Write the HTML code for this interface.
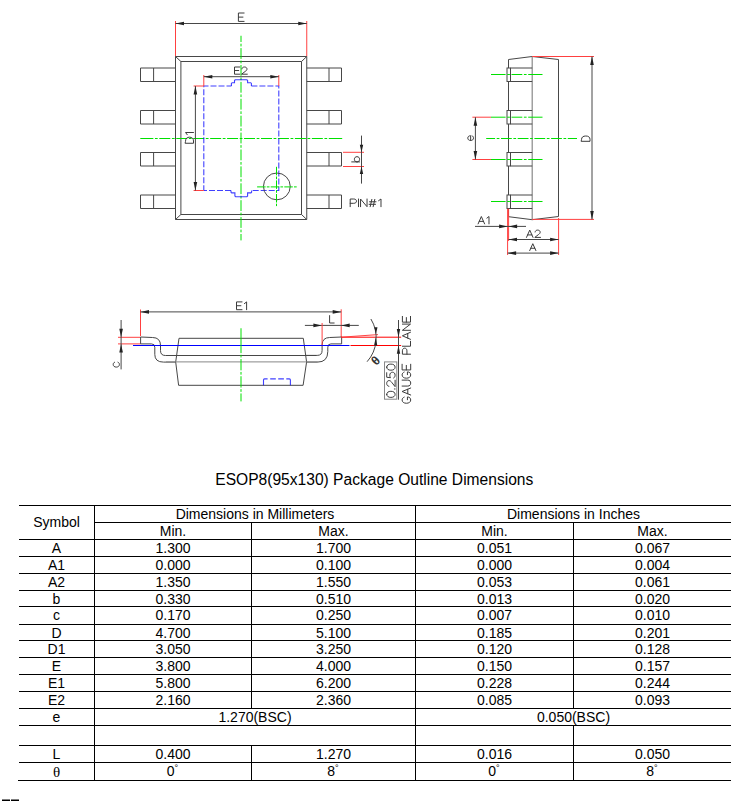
<!DOCTYPE html>
<html><head><meta charset="utf-8">
<style>
html,body{margin:0;padding:0;background:#fff;}
body{width:756px;height:801px;overflow:hidden;position:relative;}
svg{position:absolute;left:0;top:0;}
</style></head>
<body>
<svg width="756" height="801" viewBox="0 0 756 801">
<line x1="175.5" y1="21" x2="175.5" y2="56.5" stroke="#ff4040" stroke-width="1" />
<line x1="306.75" y1="21" x2="306.75" y2="56.5" stroke="#ff4040" stroke-width="1" />
<line x1="175.5" y1="23.5" x2="306.75" y2="23.5" stroke="#474747" stroke-width="1" />
<polygon points="175.50,23.50 184.00,21.70 184.00,25.30" fill="#222" stroke="none"/>
<polygon points="306.75,23.50 298.25,21.70 298.25,25.30" fill="#222" stroke="none"/>
<polygon points="175.5,56.5 306.75,56.5 306.75,219.5 175.5,219.5" stroke="#474747" stroke-width="1" fill="none"/>
<polygon points="180.9,61.5 301.5,61.5 301.5,214.5 180.9,214.5" stroke="#474747" stroke-width="1" fill="none"/>
<line x1="175.5" y1="56.5" x2="180.9" y2="61.5" stroke="#474747" stroke-width="1" />
<line x1="306.75" y1="56.5" x2="301.5" y2="61.5" stroke="#474747" stroke-width="1" />
<line x1="175.5" y1="219.5" x2="180.9" y2="214.5" stroke="#474747" stroke-width="1" />
<line x1="306.75" y1="219.5" x2="301.5" y2="214.5" stroke="#474747" stroke-width="1" />
<polyline points="175.5,68 140.5,68 140.5,81.5 175.5,81.5" stroke="#474747" stroke-width="1" fill="none"/>
<line x1="153.6" y1="68" x2="153.6" y2="81.5" stroke="#474747" stroke-width="1" />
<polyline points="306.75,68 341.5,68 341.5,81.5 306.75,81.5" stroke="#474747" stroke-width="1" fill="none"/>
<line x1="329" y1="68" x2="329" y2="81.5" stroke="#474747" stroke-width="1" />
<polyline points="175.5,110.5 140.5,110.5 140.5,124 175.5,124" stroke="#474747" stroke-width="1" fill="none"/>
<line x1="153.6" y1="110.5" x2="153.6" y2="124" stroke="#474747" stroke-width="1" />
<polyline points="306.75,110.5 341.5,110.5 341.5,124 306.75,124" stroke="#474747" stroke-width="1" fill="none"/>
<line x1="329" y1="110.5" x2="329" y2="124" stroke="#474747" stroke-width="1" />
<polyline points="175.5,152.5 140.5,152.5 140.5,166 175.5,166" stroke="#474747" stroke-width="1" fill="none"/>
<line x1="153.6" y1="152.5" x2="153.6" y2="166" stroke="#474747" stroke-width="1" />
<polyline points="306.75,152.5 341.5,152.5 341.5,166 306.75,166" stroke="#474747" stroke-width="1" fill="none"/>
<line x1="329" y1="152.5" x2="329" y2="166" stroke="#474747" stroke-width="1" />
<polyline points="175.5,195 140.5,195 140.5,208.5 175.5,208.5" stroke="#474747" stroke-width="1" fill="none"/>
<line x1="153.6" y1="195" x2="153.6" y2="208.5" stroke="#474747" stroke-width="1" />
<polyline points="306.75,195 341.5,195 341.5,208.5 306.75,208.5" stroke="#474747" stroke-width="1" fill="none"/>
<line x1="329" y1="195" x2="329" y2="208.5" stroke="#474747" stroke-width="1" />
<path d="M241 35.75V42.00M241 43.70V46.40M241 48.10V58.90M241 60.60V63.30M241 65.00V75.80M241 77.50V80.20M241 81.90V92.70M241 94.40V97.10M241 98.80V109.60M241 111.30V114.00M241 115.70V126.50M241 128.20V130.90M241 132.60V143.40M241 145.10V147.80M241 149.50V160.30M241 162.00V164.70M241 166.40V177.20M241 178.90V181.60M241 183.30V194.10M241 195.80V198.50M241 200.20V211.00M241 212.70V215.40M241 217.10V227.90M241 229.60V232.30M241 234.00V240.40" stroke="#00e000" stroke-width="1" fill="none"/>
<path d="M140.30 138.5H153.35M154.95 138.5H157.70M159.30 138.5H170.30M171.90 138.5H174.65M176.25 138.5H187.25M188.85 138.5H191.60M193.20 138.5H204.20M205.80 138.5H208.55M210.15 138.5H221.15M222.75 138.5H225.50M227.10 138.5H238.10M239.70 138.5H242.45M244.05 138.5H255.05M256.65 138.5H259.40M261.00 138.5H272.00M273.60 138.5H276.35M277.95 138.5H288.95M290.55 138.5H293.30M294.90 138.5H305.90M307.50 138.5H310.25M311.85 138.5H322.85M324.45 138.5H327.20M328.80 138.5H342.20" stroke="#00e000" stroke-width="1" fill="none"/>
<path d="M203.8 190.5V86H231.4" stroke="#0000ff" stroke-width="1.1" stroke-opacity="0.75" fill="none" stroke-dasharray="6 2" stroke-dashoffset="-103.2"/>
<path d="M251.4 86H278.8V190.5H251.6" stroke="#0000ff" stroke-width="1.1" stroke-opacity="0.75" fill="none" stroke-dasharray="6 2"/>
<path d="M231 190.5H203.8" stroke="#0000ff" stroke-width="1.1" stroke-opacity="0.75" fill="none" stroke-dasharray="6 2"/>
<path d="M231.4 86V83.4L232.1 82.7H234.5V80.5L235.2 79.75H246.9L247.6 80.5V82.7H250.7L251.4 83.4V86" stroke="#0000ff" stroke-width="1.1" stroke-opacity="0.75" fill="none"/>
<path d="M251.6 190.5V192.2L250.9 192.9H247.6V196L246.9 196.7H235.6L234.9 196V192.9H231.7L231 192.2V190.5" stroke="#0000ff" stroke-width="1.1" stroke-opacity="0.75" fill="none"/>
<line x1="203.8" y1="75" x2="203.8" y2="86" stroke="#ff4040" stroke-width="1" />
<line x1="278.8" y1="75" x2="278.8" y2="86" stroke="#ff4040" stroke-width="1" />
<line x1="203.8" y1="76.7" x2="278.8" y2="76.7" stroke="#474747" stroke-width="1" />
<polygon points="203.80,76.70 212.30,74.90 212.30,78.50" fill="#222" stroke="none"/>
<polygon points="278.80,76.70 270.30,74.90 270.30,78.50" fill="#222" stroke="none"/>
<line x1="193.6" y1="86" x2="203.8" y2="86" stroke="#ff4040" stroke-width="1" />
<line x1="193.6" y1="190.5" x2="203.8" y2="190.5" stroke="#ff4040" stroke-width="1" />
<line x1="195.4" y1="86" x2="195.4" y2="190.5" stroke="#474747" stroke-width="1" />
<polygon points="195.40,86.00 193.60,94.50 197.20,94.50" fill="#222" stroke="none"/>
<polygon points="195.40,190.50 193.60,182.00 197.20,182.00" fill="#222" stroke="none"/>
<circle cx="276.85" cy="186.4" r="13.4" stroke="#474747" stroke-width="1" fill="none"/>
<line x1="257.1" y1="186.9" x2="297" y2="186.9" stroke="#00e000" stroke-width="1" stroke-dasharray="8.5 1.2 2.7 1.2"/>
<line x1="276.5" y1="166.8" x2="276.5" y2="206.1" stroke="#00e000" stroke-width="1" stroke-dasharray="8.5 1.2 2.7 1.2"/>
<line x1="343" y1="152.3" x2="364" y2="152.3" stroke="#ff4040" stroke-width="1" />
<line x1="343" y1="166.5" x2="364" y2="166.5" stroke="#ff4040" stroke-width="1" />
<line x1="361.5" y1="135.6" x2="361.5" y2="183.6" stroke="#474747" stroke-width="1" />
<polygon points="361.50,152.30 359.80,144.80 363.20,144.80" fill="#222" stroke="none"/>
<polygon points="361.50,166.50 359.80,174.00 363.20,174.00" fill="#222" stroke="none"/>
<polygon points="508.5,59.5 532.2,56.5 558.5,59.5 558.5,216.5 532.2,219.7 508.5,216.7" stroke="#474747" stroke-width="1" fill="none"/>
<line x1="532.2" y1="56.5" x2="532.2" y2="219.7" stroke="#888" stroke-width="1.2" />
<rect x="507" y="68" width="3.5" height="13.5" stroke="#474747" stroke-width="1" fill="white"/>
<line x1="510.5" y1="68" x2="532.2" y2="68" stroke="#474747" stroke-width="1" />
<line x1="510.5" y1="81.5" x2="532.2" y2="81.5" stroke="#474747" stroke-width="1" />
<rect x="507" y="110.5" width="3.5" height="13.5" stroke="#474747" stroke-width="1" fill="white"/>
<line x1="510.5" y1="110.5" x2="532.2" y2="110.5" stroke="#474747" stroke-width="1" />
<line x1="510.5" y1="124" x2="532.2" y2="124" stroke="#474747" stroke-width="1" />
<rect x="507" y="152.5" width="3.5" height="13.5" stroke="#474747" stroke-width="1" fill="white"/>
<line x1="510.5" y1="152.5" x2="532.2" y2="152.5" stroke="#474747" stroke-width="1" />
<line x1="510.5" y1="166" x2="532.2" y2="166" stroke="#474747" stroke-width="1" />
<rect x="507" y="195" width="3.5" height="13.5" stroke="#474747" stroke-width="1" fill="white"/>
<line x1="510.5" y1="195" x2="532.2" y2="195" stroke="#474747" stroke-width="1" />
<line x1="510.5" y1="208.5" x2="532.2" y2="208.5" stroke="#474747" stroke-width="1" />
<path d="M491.00 74.5H505.60M507.20 74.5H509.90M511.50 74.5H522.30M523.90 74.5H526.60M528.20 74.5H542.50" stroke="#00e000" stroke-width="1" fill="none"/>
<path d="M491.00 117.2H505.60M507.20 117.2H509.90M511.50 117.2H522.30M523.90 117.2H526.60M528.20 117.2H542.50" stroke="#00e000" stroke-width="1" fill="none"/>
<path d="M491.00 159.5H505.60M507.20 159.5H509.90M511.50 159.5H522.30M523.90 159.5H526.60M528.20 159.5H542.50" stroke="#00e000" stroke-width="1" fill="none"/>
<path d="M491.00 201.5H505.60M507.20 201.5H509.90M511.50 201.5H522.30M523.90 201.5H526.60M528.20 201.5H542.50" stroke="#00e000" stroke-width="1" fill="none"/>
<path d="M486.20 138.5H495.10M496.70 138.5H499.40M501.00 138.5H511.80M513.40 138.5H516.10M517.70 138.5H528.50M530.10 138.5H532.80M534.40 138.5H545.20M546.80 138.5H549.50M551.10 138.5H561.90M563.50 138.5H566.20M567.80 138.5H577.00" stroke="#00e000" stroke-width="1" fill="none"/>
<line x1="472.4" y1="117.2" x2="491" y2="117.2" stroke="#ff4040" stroke-width="1" />
<line x1="472.4" y1="159.5" x2="491" y2="159.5" stroke="#ff4040" stroke-width="1" />
<line x1="475.4" y1="117.2" x2="475.4" y2="159.5" stroke="#474747" stroke-width="1" />
<polygon points="475.40,117.20 473.60,125.70 477.20,125.70" fill="#222" stroke="none"/>
<polygon points="475.40,159.50 473.60,151.00 477.20,151.00" fill="#222" stroke="none"/>
<line x1="532.2" y1="56.5" x2="594" y2="56.5" stroke="#ff4040" stroke-width="1" />
<line x1="532.2" y1="219.4" x2="594" y2="219.4" stroke="#ff4040" stroke-width="1" />
<line x1="592" y1="56.5" x2="592" y2="219.4" stroke="#474747" stroke-width="1" />
<polygon points="592.00,56.50 590.20,65.00 593.80,65.00" fill="#222" stroke="none"/>
<polygon points="592.00,219.40 590.20,210.90 593.80,210.90" fill="#222" stroke="none"/>
<line x1="507.6" y1="208.8" x2="507.6" y2="255" stroke="#ff4040" stroke-width="1" />
<line x1="508.6" y1="208.8" x2="508.6" y2="241" stroke="#ff4040" stroke-width="1" />
<line x1="558.6" y1="218" x2="558.6" y2="255" stroke="#ff4040" stroke-width="1" />
<line x1="475" y1="226.4" x2="526" y2="226.4" stroke="#474747" stroke-width="1" />
<polygon points="507.60,226.40 499.10,224.60 499.10,228.20" fill="#222" stroke="none"/>
<polygon points="508.60,226.40 517.10,224.60 517.10,228.20" fill="#222" stroke="none"/>
<line x1="508.5" y1="239.5" x2="558.6" y2="239.5" stroke="#474747" stroke-width="1" />
<polygon points="508.50,239.50 517.00,237.70 517.00,241.30" fill="#222" stroke="none"/>
<polygon points="558.60,239.50 550.10,237.70 550.10,241.30" fill="#222" stroke="none"/>
<line x1="507.6" y1="253.1" x2="558.6" y2="253.1" stroke="#474747" stroke-width="1" />
<polygon points="507.60,253.10 516.10,251.30 516.10,254.90" fill="#222" stroke="none"/>
<polygon points="558.60,253.10 550.10,251.30 550.10,254.90" fill="#222" stroke="none"/>
<line x1="140.5" y1="309.5" x2="140.5" y2="336" stroke="#ff4040" stroke-width="1" />
<line x1="341.2" y1="309.3" x2="341.2" y2="337" stroke="#ff4040" stroke-width="1" />
<line x1="140.5" y1="311.9" x2="341.2" y2="311.9" stroke="#474747" stroke-width="1" />
<polygon points="140.50,311.90 149.00,310.10 149.00,313.70" fill="#222" stroke="none"/>
<polygon points="341.20,311.90 332.70,310.10 332.70,313.70" fill="#222" stroke="none"/>
<line x1="118" y1="337.3" x2="140.6" y2="337.3" stroke="#ff4040" stroke-width="1" />
<line x1="118" y1="343.9" x2="140.6" y2="343.9" stroke="#ff4040" stroke-width="1" />
<line x1="121.1" y1="320" x2="121.1" y2="369.4" stroke="#474747" stroke-width="1" />
<polygon points="121.10,337.30 119.30,328.80 122.90,328.80" fill="#222" stroke="none"/>
<polygon points="121.10,343.90 119.30,352.40 122.90,352.40" fill="#222" stroke="none"/>
<polygon points="179,338.3 303.3,338.3 306.6,362 303.1,385.3 178.6,385.3 175.7,362" stroke="#474747" stroke-width="1" fill="none"/>
<path d="M178.6 355.5 H165.4 Q160.5 355.5 160.5 350.6 V345.5 Q160.5 337.6 152.6 337.5 L140.6 337 V343.9 H151.5 Q154.8 343.9 154.8 347.2 V354.5 Q154.8 362.1 163.5 362.1 H176" stroke="#474747" stroke-width="1" fill="none"/>
<path d="M306 355.4 H317.2 Q322.1 355.4 322.1 350.5 V345 Q322.1 337.6 329.7 337.5 L341.65 337 V343.9 H330.9 Q327.8 343.9 327.8 347.2 V351.5 Q327.8 362.1 317.5 362.1 H306" stroke="#474747" stroke-width="1" fill="none"/>
<line x1="167" y1="355.5" x2="316" y2="355.5" stroke="#474747" stroke-width="1" />
<line x1="166" y1="361.9" x2="318" y2="361.9" stroke="#888" stroke-width="1" />
<line x1="133" y1="345.5" x2="349.5" y2="345.5" stroke="#0000ff" stroke-width="1" />
<line x1="350.5" y1="345.5" x2="401.2" y2="345.5" stroke="#ff0000" stroke-width="1" />
<line x1="341.2" y1="337.2" x2="401.2" y2="337.2" stroke="#ff0000" stroke-width="1" />
<line x1="341.2" y1="337.2" x2="378" y2="334.6" stroke="#ff3030" stroke-width="0.9" />
<path d="M241 328.25V353.15M241 354.75V357.45M241 359.05V370.35M241 371.95V374.65M241 376.25V387.55M241 389.15V391.85M241 393.45V401.40" stroke="#00e000" stroke-width="1" fill="none"/>
<path d="M263.5 385.3V379.9Q263.5 378.9 264.5 378.9H267.6M270.2 378.9H275.8M278.2 378.9H283.9M286.3 378.9H289.4Q290.4 378.9 290.4 379.9V385.3" stroke="#0000ff" stroke-opacity="0.75" stroke-width="1.1" fill="none"/>
<line x1="304.9" y1="325.4" x2="358.8" y2="325.4" stroke="#474747" stroke-width="1" />
<polygon points="321.90,325.40 313.40,323.60 313.40,327.20" fill="#222" stroke="none"/>
<polygon points="341.20,325.40 349.70,323.60 349.70,327.20" fill="#222" stroke="none"/>
<line x1="322.1" y1="323" x2="322.1" y2="345.2" stroke="#ff4040" stroke-width="1" />
<path d="M370.9 319 A36.1 36.1 0 0 1 367.1 361.7" stroke="#474747" stroke-width="1" fill="none"/>
<polygon points="375.90,334.30 374.30,327.30 377.50,327.30" fill="#222" stroke="none"/>
<polygon points="375.70,337.60 374.10,345.40 377.30,345.40" fill="#222" stroke="none"/>
<line x1="398.5" y1="320" x2="398.5" y2="399.7" stroke="#474747" stroke-width="1" />
<polygon points="398.50,337.20 396.80,328.90 400.20,328.90" fill="#222" stroke="none"/>
<polygon points="398.50,345.40 396.80,353.70 400.20,353.70" fill="#222" stroke="none"/>
<rect x="384.5" y="361.9" width="12.3" height="37.3" stroke="#888" stroke-width="1" fill="none"/>
<line x1="19" y1="505.5" x2="731" y2="505.5" stroke="#000" stroke-width="1" />
<line x1="95" y1="522.5" x2="731" y2="522.5" stroke="#000" stroke-width="1" />
<line x1="19" y1="539.5" x2="731" y2="539.5" stroke="#000" stroke-width="1" />
<line x1="19" y1="556.5" x2="731" y2="556.5" stroke="#000" stroke-width="1" />
<line x1="19" y1="573.5" x2="731" y2="573.5" stroke="#000" stroke-width="1" />
<line x1="19" y1="590.5" x2="731" y2="590.5" stroke="#000" stroke-width="1" />
<line x1="19" y1="606.5" x2="731" y2="606.5" stroke="#000" stroke-width="1" />
<line x1="19" y1="624.5" x2="731" y2="624.5" stroke="#000" stroke-width="1" />
<line x1="19" y1="640.5" x2="731" y2="640.5" stroke="#000" stroke-width="1" />
<line x1="19" y1="657.5" x2="731" y2="657.5" stroke="#000" stroke-width="1" />
<line x1="19" y1="674.5" x2="731" y2="674.5" stroke="#000" stroke-width="1" />
<line x1="19" y1="691.5" x2="731" y2="691.5" stroke="#000" stroke-width="1" />
<line x1="19" y1="708.5" x2="731" y2="708.5" stroke="#000" stroke-width="1" />
<line x1="19" y1="725.5" x2="731" y2="725.5" stroke="#000" stroke-width="1" />
<line x1="19" y1="745.5" x2="731" y2="745.5" stroke="#000" stroke-width="1" />
<line x1="19" y1="762.5" x2="731" y2="762.5" stroke="#000" stroke-width="1" />
<line x1="18" y1="780.5" x2="731" y2="780.5" stroke="#000" stroke-width="1" />
<line x1="94.5" y1="505" x2="94.5" y2="781" stroke="#000" stroke-width="1"/>
<line x1="251.5" y1="522" x2="251.5" y2="708" stroke="#000" stroke-width="1"/>
<line x1="251.5" y1="745" x2="251.5" y2="781" stroke="#000" stroke-width="1"/>
<line x1="415.5" y1="505" x2="415.5" y2="781" stroke="#000" stroke-width="1"/>
<line x1="573.5" y1="522" x2="573.5" y2="708" stroke="#000" stroke-width="1"/>
<line x1="573.5" y1="725" x2="573.5" y2="781" stroke="#000" stroke-width="1"/>
<rect x="2" y="799.5" width="8" height="1.5" fill="#000"/><rect x="11" y="799.5" width="8" height="1.5" fill="#000"/>
<g transform="translate(238.40 13.00) scale(0.8769 0.8400)" fill="none" stroke="#3c3c3c" stroke-width="1" stroke-linecap="round" stroke-linejoin="round"><path vector-effect="non-scaling-stroke" transform="translate(0.00 0)" d="M6.5 0H0V10H6.5M0 4.9H5.2"/></g>
<g transform="translate(234.50 67.00) scale(0.8153 0.7200)" fill="none" stroke="#3c3c3c" stroke-width="1" stroke-linecap="round" stroke-linejoin="round"><path vector-effect="non-scaling-stroke" transform="translate(0.00 0)" d="M6.5 0H0V10H6.5M0 4.9H5.2"/><path vector-effect="non-scaling-stroke" transform="translate(8.70 0)" d="M0.4 2.6C0.6 0.9 1.8 0 3.5 0C5.4 0 6.6 1.2 6.6 2.8C6.6 4.2 5.8 5.2 4.4 6.2L0 10H7"/></g>
<g transform="translate(185.50 143.25) rotate(-90) scale(0.8669 0.8000)" fill="none" stroke="#3c3c3c" stroke-width="1" stroke-linecap="round" stroke-linejoin="round"><path vector-effect="non-scaling-stroke" transform="translate(0.00 0)" d="M0 0V10H2.6C5.6 10 7 8 7 5C7 2 5.6 0 2.6 0Z"/><path vector-effect="non-scaling-stroke" transform="translate(9.20 0)" d="M0.6 2.2L3.2 0V10"/></g>
<g transform="translate(351.70 161.90) rotate(-90) scale(0.8667 0.7900)" fill="none" stroke="#3c3c3c" stroke-width="1" stroke-linecap="round" stroke-linejoin="round"><path vector-effect="non-scaling-stroke" transform="translate(0.00 0)" d="M0 0V10M0 6.7C0 4.6 1.2 3.4 3 3.4C4.9 3.4 6 4.7 6 6.7C6 8.7 4.9 10 3 10C1.2 10 0 8.8 0 6.7"/></g>
<g transform="translate(350.20 199.00) scale(0.9249 0.7700)" fill="none" stroke="#3c3c3c" stroke-width="1" stroke-linecap="round" stroke-linejoin="round"><path vector-effect="non-scaling-stroke" transform="translate(0.00 0)" d="M0 10V0H3.8C5.7 0 6.8 1.1 6.8 2.8C6.8 4.5 5.7 5.6 3.8 5.6H0"/><path vector-effect="non-scaling-stroke" transform="translate(9.00 0)" d="M0 0V10"/><path vector-effect="non-scaling-stroke" transform="translate(11.20 0)" d="M0 10V0L7 10V0"/><path vector-effect="non-scaling-stroke" transform="translate(20.40 0)" d="M3 0.5L1.2 10M6.2 0.5L4.4 10M0.5 3.6H7.5M0 6.9H7"/><path vector-effect="non-scaling-stroke" transform="translate(30.10 0)" d="M0.6 2.2L3.2 0V10"/></g>
<g transform="translate(464.86 140.50) rotate(-90) scale(0.8000 0.8636)" fill="none" stroke="#3c3c3c" stroke-width="1" stroke-linecap="round" stroke-linejoin="round"><path vector-effect="non-scaling-stroke" transform="translate(0.00 0)" d="M0.1 6.7H6C6 4.7 4.9 3.4 3 3.4C1.1 3.4 0 4.8 0 6.7C0 8.7 1.2 10 3 10C4.4 10 5.4 9.4 5.9 8.4"/></g>
<g transform="translate(581.50 141.30) rotate(-90) scale(0.7571 0.8500)" fill="none" stroke="#3c3c3c" stroke-width="1" stroke-linecap="round" stroke-linejoin="round"><path vector-effect="non-scaling-stroke" transform="translate(0.00 0)" d="M0 0V10H2.6C5.6 10 7 8 7 5C7 2 5.6 0 2.6 0Z"/></g>
<g transform="translate(478.10 216.50) scale(0.8134 0.7400)" fill="none" stroke="#3c3c3c" stroke-width="1" stroke-linecap="round" stroke-linejoin="round"><path vector-effect="non-scaling-stroke" transform="translate(0.00 0)" d="M0 10L4 0L8 10M1.4 6.6H6.6"/><path vector-effect="non-scaling-stroke" transform="translate(10.20 0)" d="M0.6 2.2L3.2 0V10"/></g>
<g transform="translate(526.50 230.10) scale(0.8140 0.7300)" fill="none" stroke="#3c3c3c" stroke-width="1" stroke-linecap="round" stroke-linejoin="round"><path vector-effect="non-scaling-stroke" transform="translate(0.00 0)" d="M0 10L4 0L8 10M1.4 6.6H6.6"/><path vector-effect="non-scaling-stroke" transform="translate(10.20 0)" d="M0.4 2.6C0.6 0.9 1.8 0 3.5 0C5.4 0 6.6 1.2 6.6 2.8C6.6 4.2 5.8 5.2 4.4 6.2L0 10H7"/></g>
<g transform="translate(529.70 243.70) scale(0.7750 0.6900)" fill="none" stroke="#3c3c3c" stroke-width="1" stroke-linecap="round" stroke-linejoin="round"><path vector-effect="non-scaling-stroke" transform="translate(0.00 0)" d="M0 10L4 0L8 10M1.4 6.6H6.6"/></g>
<g transform="translate(236.50 301.90) scale(0.8487 0.7800)" fill="none" stroke="#3c3c3c" stroke-width="1" stroke-linecap="round" stroke-linejoin="round"><path vector-effect="non-scaling-stroke" transform="translate(0.00 0)" d="M6.5 0H0V10H6.5M0 4.9H5.2"/><path vector-effect="non-scaling-stroke" transform="translate(8.70 0)" d="M0.6 2.2L3.2 0V10"/></g>
<g transform="translate(110.01 367.10) rotate(-90) scale(0.8448 0.9394)" fill="none" stroke="#3c3c3c" stroke-width="1" stroke-linecap="round" stroke-linejoin="round"><path vector-effect="non-scaling-stroke" transform="translate(0.00 0)" d="M5.8 4.9C5.3 3.9 4.4 3.4 3.1 3.4C1.2 3.4 0 4.8 0 6.7C0 8.6 1.2 10 3.1 10C4.4 10 5.3 9.5 5.8 8.5"/></g>
<g transform="translate(329.60 315.60) scale(0.8125 0.7400)" fill="none" stroke="#3c3c3c" stroke-width="1" stroke-linecap="round" stroke-linejoin="round"><path vector-effect="non-scaling-stroke" transform="translate(0.00 0)" d="M0 0V10H5.6"/></g>
<text transform="translate(378.6 363.6) rotate(-45)" font-family="Liberation Sans" font-weight="bold" font-size="12.5" fill="#333" text-anchor="middle">θ</text>
<g transform="translate(402.40 354.20) rotate(-90) scale(0.8852 0.8100)" fill="none" stroke="#3c3c3c" stroke-width="1" stroke-linecap="round" stroke-linejoin="round"><path vector-effect="non-scaling-stroke" transform="translate(0.00 0)" d="M0 10V0H3.8C5.7 0 6.8 1.1 6.8 2.8C6.8 4.5 5.7 5.6 3.8 5.6H0"/><path vector-effect="non-scaling-stroke" transform="translate(9.00 0)" d="M0 0V10H5.6"/><path vector-effect="non-scaling-stroke" transform="translate(16.80 0)" d="M0 10L4 0L8 10M1.4 6.6H6.6"/><path vector-effect="non-scaling-stroke" transform="translate(27.00 0)" d="M0 10V0L7 10V0"/><path vector-effect="non-scaling-stroke" transform="translate(36.20 0)" d="M6.5 0H0V10H6.5M0 4.9H5.2"/></g>
<g transform="translate(402.10 403.25) rotate(-90) scale(0.8764 0.8600)" fill="none" stroke="#3c3c3c" stroke-width="1" stroke-linecap="round" stroke-linejoin="round"><path vector-effect="non-scaling-stroke" transform="translate(0.00 0)" d="M7 2.4C6.4 0.9 5.2 0 3.7 0C1.4 0 0 2 0 5C0 8 1.4 10 3.7 10C5.8 10 7.2 8.6 7.2 6.2H4"/><path vector-effect="non-scaling-stroke" transform="translate(9.40 0)" d="M0 10L4 0L8 10M1.4 6.6H6.6"/><path vector-effect="non-scaling-stroke" transform="translate(19.60 0)" d="M0 0V6.6C0 8.8 1.3 10 3.4 10C5.5 10 6.8 8.8 6.8 6.6V0"/><path vector-effect="non-scaling-stroke" transform="translate(28.60 0)" d="M7 2.4C6.4 0.9 5.2 0 3.7 0C1.4 0 0 2 0 5C0 8 1.4 10 3.7 10C5.8 10 7.2 8.6 7.2 6.2H4"/><path vector-effect="non-scaling-stroke" transform="translate(38.00 0)" d="M6.5 0H0V10H6.5M0 4.9H5.2"/></g>
<g transform="translate(386.70 397.40) rotate(-90) scale(0.9250 0.8400)" fill="none" stroke="#3c3c3c" stroke-width="1" stroke-linecap="round" stroke-linejoin="round"><path vector-effect="non-scaling-stroke" transform="translate(0.00 0)" d="M3.3 0C1.2 0 0 2 0 5C0 8 1.2 10 3.3 10C5.4 10 6.6 8 6.6 5C6.6 2 5.4 0 3.3 0Z"/><path vector-effect="non-scaling-stroke" transform="translate(8.80 0)" d="M0.3 9.1L0.3 10"/><path vector-effect="non-scaling-stroke" transform="translate(11.60 0)" d="M0.4 2.6C0.6 0.9 1.8 0 3.5 0C5.4 0 6.6 1.2 6.6 2.8C6.6 4.2 5.8 5.2 4.4 6.2L0 10H7"/><path vector-effect="non-scaling-stroke" transform="translate(20.80 0)" d="M5.9 0H1L0.5 4.5C1.2 4 2.1 3.7 3.2 3.7C5.2 3.7 6.4 5 6.4 6.85C6.4 8.8 5.2 10 3.2 10C1.8 10 0.7 9.4 0.2 8.4"/><path vector-effect="non-scaling-stroke" transform="translate(29.40 0)" d="M3.3 0C1.2 0 0 2 0 5C0 8 1.2 10 3.3 10C5.4 10 6.6 8 6.6 5C6.6 2 5.4 0 3.3 0Z"/></g>
<text x="374.3" y="485" font-family="Liberation Sans" font-size="15.6" fill="#000" text-anchor="middle">ESOP8(95x130) Package Outline Dimensions</text>
<text x="56.5" y="526.6" font-family="Liberation Sans" font-size="14" fill="#000" text-anchor="middle">Symbol</text>
<text x="255" y="519" font-family="Liberation Sans" font-size="14" fill="#000" text-anchor="middle">Dimensions in Millimeters</text>
<text x="573.5" y="519" font-family="Liberation Sans" font-size="14" fill="#000" text-anchor="middle">Dimensions in Inches</text>
<text x="173" y="536" font-family="Liberation Sans" font-size="14" fill="#000" text-anchor="middle">Min.</text>
<text x="333.5" y="536" font-family="Liberation Sans" font-size="14" fill="#000" text-anchor="middle">Max.</text>
<text x="494.5" y="536" font-family="Liberation Sans" font-size="14" fill="#000" text-anchor="middle">Min.</text>
<text x="652.5" y="536" font-family="Liberation Sans" font-size="14" fill="#000" text-anchor="middle">Max.</text>
<text x="56.5" y="553" font-family="Liberation Sans" font-size="14" fill="#000" text-anchor="middle">A</text>
<text x="173" y="553" font-family="Liberation Sans" font-size="14" fill="#000" text-anchor="middle">1.300</text>
<text x="333.5" y="553" font-family="Liberation Sans" font-size="14" fill="#000" text-anchor="middle">1.700</text>
<text x="494.5" y="553" font-family="Liberation Sans" font-size="14" fill="#000" text-anchor="middle">0.051</text>
<text x="652.5" y="553" font-family="Liberation Sans" font-size="14" fill="#000" text-anchor="middle">0.067</text>
<text x="56.5" y="570" font-family="Liberation Sans" font-size="14" fill="#000" text-anchor="middle">A1</text>
<text x="173" y="570" font-family="Liberation Sans" font-size="14" fill="#000" text-anchor="middle">0.000</text>
<text x="333.5" y="570" font-family="Liberation Sans" font-size="14" fill="#000" text-anchor="middle">0.100</text>
<text x="494.5" y="570" font-family="Liberation Sans" font-size="14" fill="#000" text-anchor="middle">0.000</text>
<text x="652.5" y="570" font-family="Liberation Sans" font-size="14" fill="#000" text-anchor="middle">0.004</text>
<text x="56.5" y="587" font-family="Liberation Sans" font-size="14" fill="#000" text-anchor="middle">A2</text>
<text x="173" y="587" font-family="Liberation Sans" font-size="14" fill="#000" text-anchor="middle">1.350</text>
<text x="333.5" y="587" font-family="Liberation Sans" font-size="14" fill="#000" text-anchor="middle">1.550</text>
<text x="494.5" y="587" font-family="Liberation Sans" font-size="14" fill="#000" text-anchor="middle">0.053</text>
<text x="652.5" y="587" font-family="Liberation Sans" font-size="14" fill="#000" text-anchor="middle">0.061</text>
<text x="56.5" y="604" font-family="Liberation Sans" font-size="14" fill="#000" text-anchor="middle">b</text>
<text x="173" y="604" font-family="Liberation Sans" font-size="14" fill="#000" text-anchor="middle">0.330</text>
<text x="333.5" y="604" font-family="Liberation Sans" font-size="14" fill="#000" text-anchor="middle">0.510</text>
<text x="494.5" y="604" font-family="Liberation Sans" font-size="14" fill="#000" text-anchor="middle">0.013</text>
<text x="652.5" y="604" font-family="Liberation Sans" font-size="14" fill="#000" text-anchor="middle">0.020</text>
<text x="56.5" y="620" font-family="Liberation Sans" font-size="14" fill="#000" text-anchor="middle">c</text>
<text x="173" y="620" font-family="Liberation Sans" font-size="14" fill="#000" text-anchor="middle">0.170</text>
<text x="333.5" y="620" font-family="Liberation Sans" font-size="14" fill="#000" text-anchor="middle">0.250</text>
<text x="494.5" y="620" font-family="Liberation Sans" font-size="14" fill="#000" text-anchor="middle">0.007</text>
<text x="652.5" y="620" font-family="Liberation Sans" font-size="14" fill="#000" text-anchor="middle">0.010</text>
<text x="56.5" y="638" font-family="Liberation Sans" font-size="14" fill="#000" text-anchor="middle">D</text>
<text x="173" y="638" font-family="Liberation Sans" font-size="14" fill="#000" text-anchor="middle">4.700</text>
<text x="333.5" y="638" font-family="Liberation Sans" font-size="14" fill="#000" text-anchor="middle">5.100</text>
<text x="494.5" y="638" font-family="Liberation Sans" font-size="14" fill="#000" text-anchor="middle">0.185</text>
<text x="652.5" y="638" font-family="Liberation Sans" font-size="14" fill="#000" text-anchor="middle">0.201</text>
<text x="56.5" y="654" font-family="Liberation Sans" font-size="14" fill="#000" text-anchor="middle">D1</text>
<text x="173" y="654" font-family="Liberation Sans" font-size="14" fill="#000" text-anchor="middle">3.050</text>
<text x="333.5" y="654" font-family="Liberation Sans" font-size="14" fill="#000" text-anchor="middle">3.250</text>
<text x="494.5" y="654" font-family="Liberation Sans" font-size="14" fill="#000" text-anchor="middle">0.120</text>
<text x="652.5" y="654" font-family="Liberation Sans" font-size="14" fill="#000" text-anchor="middle">0.128</text>
<text x="56.5" y="671" font-family="Liberation Sans" font-size="14" fill="#000" text-anchor="middle">E</text>
<text x="173" y="671" font-family="Liberation Sans" font-size="14" fill="#000" text-anchor="middle">3.800</text>
<text x="333.5" y="671" font-family="Liberation Sans" font-size="14" fill="#000" text-anchor="middle">4.000</text>
<text x="494.5" y="671" font-family="Liberation Sans" font-size="14" fill="#000" text-anchor="middle">0.150</text>
<text x="652.5" y="671" font-family="Liberation Sans" font-size="14" fill="#000" text-anchor="middle">0.157</text>
<text x="56.5" y="688" font-family="Liberation Sans" font-size="14" fill="#000" text-anchor="middle">E1</text>
<text x="173" y="688" font-family="Liberation Sans" font-size="14" fill="#000" text-anchor="middle">5.800</text>
<text x="333.5" y="688" font-family="Liberation Sans" font-size="14" fill="#000" text-anchor="middle">6.200</text>
<text x="494.5" y="688" font-family="Liberation Sans" font-size="14" fill="#000" text-anchor="middle">0.228</text>
<text x="652.5" y="688" font-family="Liberation Sans" font-size="14" fill="#000" text-anchor="middle">0.244</text>
<text x="56.5" y="705" font-family="Liberation Sans" font-size="14" fill="#000" text-anchor="middle">E2</text>
<text x="173" y="705" font-family="Liberation Sans" font-size="14" fill="#000" text-anchor="middle">2.160</text>
<text x="333.5" y="705" font-family="Liberation Sans" font-size="14" fill="#000" text-anchor="middle">2.360</text>
<text x="494.5" y="705" font-family="Liberation Sans" font-size="14" fill="#000" text-anchor="middle">0.085</text>
<text x="652.5" y="705" font-family="Liberation Sans" font-size="14" fill="#000" text-anchor="middle">0.093</text>
<text x="56.5" y="722" font-family="Liberation Sans" font-size="14" fill="#000" text-anchor="middle">e</text>
<text x="255" y="722" font-family="Liberation Sans" font-size="14" fill="#000" text-anchor="middle">1.270(BSC)</text>
<text x="573.5" y="722" font-family="Liberation Sans" font-size="14" fill="#000" text-anchor="middle">0.050(BSC)</text>
<text x="56.5" y="759" font-family="Liberation Sans" font-size="14" fill="#000" text-anchor="middle">L</text>
<text x="173" y="759" font-family="Liberation Sans" font-size="14" fill="#000" text-anchor="middle">0.400</text>
<text x="333.5" y="759" font-family="Liberation Sans" font-size="14" fill="#000" text-anchor="middle">1.270</text>
<text x="494.5" y="759" font-family="Liberation Sans" font-size="14" fill="#000" text-anchor="middle">0.016</text>
<text x="652.5" y="759" font-family="Liberation Sans" font-size="14" fill="#000" text-anchor="middle">0.050</text>
<text x="56.5" y="777" font-family="Liberation Serif" font-size="15" fill="#000" text-anchor="middle">θ</text>
<text x="172.5" y="776" font-family="Liberation Sans" font-size="14" fill="#000" text-anchor="middle">0<tspan font-size="9" dy="-5">&#176;</tspan></text>
<text x="333.0" y="776" font-family="Liberation Sans" font-size="14" fill="#000" text-anchor="middle">8<tspan font-size="9" dy="-5">&#176;</tspan></text>
<text x="494.0" y="776" font-family="Liberation Sans" font-size="14" fill="#000" text-anchor="middle">0<tspan font-size="9" dy="-5">&#176;</tspan></text>
<text x="652.0" y="776" font-family="Liberation Sans" font-size="14" fill="#000" text-anchor="middle">8<tspan font-size="9" dy="-5">&#176;</tspan></text>
</svg>
</body></html>
